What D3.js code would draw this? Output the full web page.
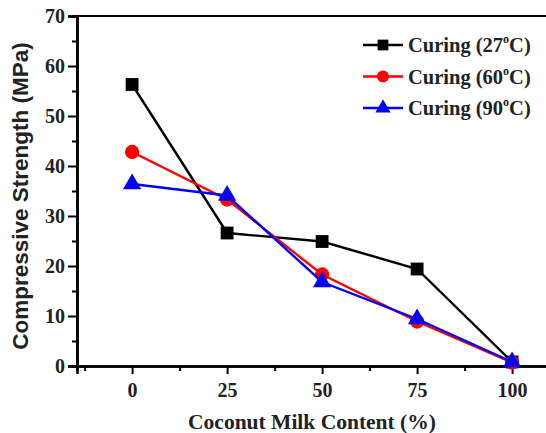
<!DOCTYPE html>
<html>
<head>
<meta charset="utf-8">
<script src="https://cdn.jsdelivr.net/npm/d3@7"></script>
<style>
  body { margin: 0; background: #fff; }
  svg { display: block; }
</style>
</head>
<body>
<div id="chart"></div>
<script>
// data
const content = [0, 25, 50, 75, 100]
const cure27 = [56.3, 26.6, 24.9, 19.4, 0.8]
const cure60 = [42.8, 33.3, 18.3, 8.9, 0.7]
const cure90 = [36.4, 34.1, 16.8, 9.4, 0.8]
const seriesNames = ["27", "60", "90"]
const xTicks = [0, 25, 50, 75, 100]
const yTicks = [0, 10, 20, 30, 40, 50, 60, 70]

const W = 546, H = 433

let svg = d3.select("#chart").append("svg").attr("width", W).attr("height", H)

let x = d3.scaleLinear().domain([-14.5, 110.5]).range([77, 552])
let y = d3.scaleLinear().domain([0, 70]).range([366, 16])

let serif = "'Liberation Serif', 'Times New Roman', serif"
let sans = "'Liberation Sans', Arial, sans-serif"

// frame top line
svg.append("line")
  .attr("x1", x(-14.5)).attr("x2", W)
  .attr("y1", y(70)).attr("y2", y(70))
  .attr("stroke", "#000").attr("stroke-width", 2)

// minor ticks
let yAxisMinor = d3.axisLeft(y).tickValues(d3.range(5, 70, 10)).tickSize(5).tickFormat("")
svg.append("g").attr("transform", "translate(" + x(-14.5) + ",0)").call(yAxisMinor)

let xAxisMinor = d3.axisBottom(x).tickValues([-12.5, 12.5, 37.5, 62.5, 87.5]).tickSize(5).tickFormat("")
svg.append("g").attr("transform", "translate(0," + y(0) + ")").call(xAxisMinor)

// major axes
let yAxis = d3.axisLeft(y).tickValues(yTicks).tickSize(9).tickPadding(3)
svg.append("g").attr("transform", "translate(" + x(-14.5) + ",0)").call(yAxis)

let xAxis = d3.axisBottom(x).tickValues(xTicks).tickSize(8).tickPadding(9)
svg.append("g").attr("transform", "translate(0," + y(0) + ")").call(xAxis)

svg.selectAll(".domain").attr("stroke", "#000").attr("stroke-width", 2.5)
svg.selectAll(".tick line").attr("stroke", "#000").attr("stroke-width", 2)
svg.selectAll(".tick text")
  .attr("font-family", serif).attr("font-weight", "bold")
  .attr("font-size", "20px").attr("fill", "#222")

// axis titles
svg.append("text")
  .text("Coconut Milk Content (%)")
  .attr("x", 312).attr("y", 429)
  .attr("text-anchor", "middle")
  .attr("font-family", serif).attr("font-weight", "bold").attr("font-size", "21.5px")
  .attr("fill", "#222")

svg.append("text")
  .text("Compressive Strength (MPa)")
  .attr("transform", "translate(28,196) rotate(-90)")
  .attr("text-anchor", "middle")
  .attr("font-family", sans).attr("font-weight", "bold").attr("font-size", "22.5px")
  .attr("fill", "#222")

// series
let series = [
  {name: seriesNames[0], values: cure27, color: "#000", shape: d3.symbolSquare, size: 165},
  {name: seriesNames[1], values: cure60, color: "#ff0000", shape: d3.symbolCircle, size: 160},
  {name: seriesNames[2], values: cure90, color: "#0000ff", shape: d3.symbolTriangle, size: 145}
]

let line = d3.line().x(function(d, i) { return x(content[i]) }).y(function(d) { return y(d) })

series.forEach(function(s) {

  svg.append("path")
    .attr("d", line(s.values))
    .attr("fill", "none")
    .attr("stroke", s.color)
    .attr("stroke-width", 2.4)

  svg.selectAll(null)
    .data(s.values)
    .enter()
    .append("path")
    .attr("d", d3.symbol().type(s.shape).size(s.size))
    .attr("transform", function(d, i) { return "translate(" + x(content[i]) + "," + y(d) + ")" })
    .attr("fill", s.color)

})

// legend
let legend = svg.append("g")

series.forEach(function(s, i) {

  let ly = 45 + i * 31.5

  legend.append("line")
    .attr("x1", 363).attr("x2", 403).attr("y1", ly).attr("y2", ly)
    .attr("stroke", s.color).attr("stroke-width", 2.4)

  legend.append("path")
    .attr("d", d3.symbol().type(s.shape).size(s.size * 0.7))
    .attr("transform", "translate(383," + ly + ")")
    .attr("fill", s.color)

  let t = legend.append("text")
    .attr("x", 408).attr("y", ly + 7)
    .attr("font-family", serif).attr("font-weight", "bold").attr("font-size", "20.5px")
    .attr("fill", "#222")

  t.append("tspan").text("Curing (" + s.name)
  t.append("tspan").text("o").attr("font-size", "12px").attr("dy", -9)
  t.append("tspan").text("C)").attr("dy", 9)

})
</script>
</body>
</html>
